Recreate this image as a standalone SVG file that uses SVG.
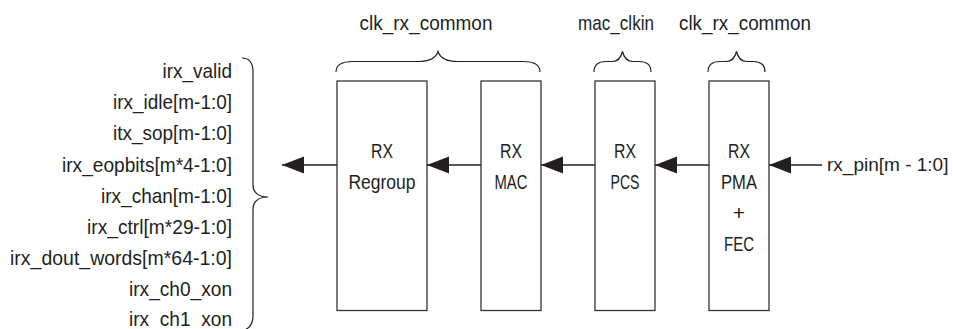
<svg xmlns="http://www.w3.org/2000/svg" width="953" height="329" viewBox="0 0 953 329">
<style>
  text { font-family: "Liberation Sans", Arial, sans-serif; font-size: 21px; fill: #231f20; }
  .box { fill: #ffffff; stroke: #333333; stroke-width: 1.3; }
  .brace { fill: none; stroke: #231f20; stroke-width: 1.2; }
  .wire { fill: none; stroke: #231f20; stroke-width: 1.3; }
  .r { text-anchor: end; }
  .c { text-anchor: middle; }
</style>
<defs>
  <marker id="ah" markerUnits="userSpaceOnUse" markerWidth="24" markerHeight="18" refX="22" refY="8.5" orient="auto">
    <polygon points="0,0 22,8.5 0,17" fill="#231f20"/>
  </marker>
</defs>
<rect width="953" height="329" fill="#ffffff"/>

<g id="outputs">
  <text class="r" x="232" y="78" textLength="69.5" lengthAdjust="spacingAndGlyphs">irx_valid</text>
  <text class="r" x="232" y="109" textLength="119" lengthAdjust="spacingAndGlyphs">irx_idle[m-1:0]</text>
  <text class="r" x="232" y="140" textLength="119" lengthAdjust="spacingAndGlyphs">itx_sop[m-1:0]</text>
  <text class="r" x="232" y="171.5" textLength="170" lengthAdjust="spacingAndGlyphs">irx_eopbits[m*4-1:0]</text>
  <text class="r" x="232" y="202.5" textLength="131" lengthAdjust="spacingAndGlyphs">irx_chan[m-1:0]</text>
  <text class="r" x="232" y="233.5" textLength="145" lengthAdjust="spacingAndGlyphs">irx_ctrl[m*29-1:0]</text>
  <text class="r" x="232" y="265" textLength="222" lengthAdjust="spacingAndGlyphs">irx_dout_words[m*64-1:0]</text>
  <text class="r" x="232" y="296" textLength="103" lengthAdjust="spacingAndGlyphs">irx_ch0_xon</text>
  <text class="r" x="232" y="326" textLength="103" lengthAdjust="spacingAndGlyphs">irx_ch1_xon</text>
  <path class="brace" d="M242,58 C250,58 253,64 253,72 L253,185 C253,192 258,197 268,197 C258,197 253,202 253,209 L253,316 C253,324 249,329 242,331"/>
</g>

<g id="rx_regroup">
  <rect class="box" x="337" y="81" width="90" height="229.5"/>
  <text class="c" x="382" y="158" textLength="22" lengthAdjust="spacingAndGlyphs">RX</text>
  <text class="c" x="382" y="189" textLength="67" lengthAdjust="spacingAndGlyphs">Regroup</text>
</g>
<g id="rx_mac">
  <rect class="box" x="481" y="81" width="60" height="229.5"/>
  <text class="c" x="511" y="158" textLength="22" lengthAdjust="spacingAndGlyphs">RX</text>
  <text class="c" x="511" y="189" textLength="33" lengthAdjust="spacingAndGlyphs">MAC</text>
</g>
<g id="rx_pcs">
  <rect class="box" x="595" y="81" width="60" height="229.5"/>
  <text class="c" x="625" y="158" textLength="22" lengthAdjust="spacingAndGlyphs">RX</text>
  <text class="c" x="625" y="189" textLength="29" lengthAdjust="spacingAndGlyphs">PCS</text>
</g>
<g id="rx_pma_fec">
  <rect class="box" x="709" y="81" width="60" height="229.5"/>
  <text class="c" x="739" y="158" textLength="22" lengthAdjust="spacingAndGlyphs">RX</text>
  <text class="c" x="739" y="189" textLength="36" lengthAdjust="spacingAndGlyphs">PMA</text>
  <text class="c" x="739" y="220">+</text>
  <text class="c" x="739" y="251" textLength="30" lengthAdjust="spacingAndGlyphs">FEC</text>
</g>

<g id="clk_rx_common_1">
  <text class="c" x="426" y="30" textLength="133" lengthAdjust="spacingAndGlyphs">clk_rx_common</text>
  <path class="brace" d="M336,72 C336,65 342,61.5 353,61.5 L418,61.5 C429,61.5 436,58 438,51.5 C440,58 447,61.5 458,61.5 L523,61.5 C534,61.5 540,65 540,72"/>
</g>
<g id="mac_clkin">
  <text class="c" x="616" y="30" textLength="76" lengthAdjust="spacingAndGlyphs">mac_clkin</text>
  <path class="brace" d="M594,72 C594,65 598,61.5 606,61.5 L612,61.5 C618,61.5 621,58 622.5,51.5 C624,58 627,61.5 633,61.5 L639,61.5 C647,61.5 651,65 651,72"/>
</g>
<g id="clk_rx_common_2">
  <text class="c" x="745" y="30" textLength="132" lengthAdjust="spacingAndGlyphs">clk_rx_common</text>
  <path class="brace" d="M708,72 C708,65 712,61.5 720,61.5 L726,61.5 C732,61.5 735,58 736.5,51.5 C738,58 741,61.5 747,61.5 L753,61.5 C761,61.5 765,65 765,72"/>
</g>

<g id="rx_pin">
  <text x="827" y="171" style="font-size:19px">rx_pin[m - 1:0]</text>
</g>

<g id="connectors">
  <line class="wire" x1="822" y1="165" x2="769" y2="165" marker-end="url(#ah)"/>
  <line class="wire" x1="709" y1="165" x2="655" y2="165" marker-end="url(#ah)"/>
  <line class="wire" x1="595" y1="165" x2="541" y2="165" marker-end="url(#ah)"/>
  <line class="wire" x1="481" y1="165" x2="427" y2="165" marker-end="url(#ah)"/>
  <line class="wire" x1="337" y1="165" x2="282" y2="165" marker-end="url(#ah)"/>
</g>
</svg>
